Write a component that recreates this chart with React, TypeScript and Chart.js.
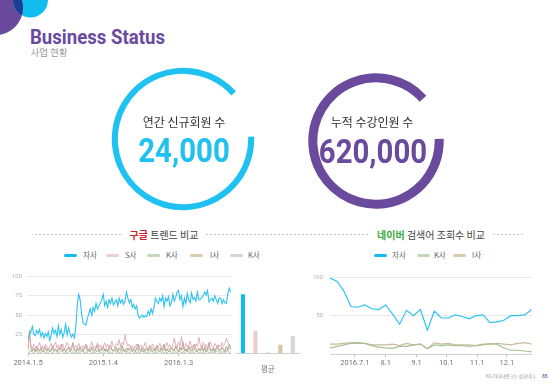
import React, { useEffect, useRef } from 'react';
import { Chart, registerables } from 'chart.js';
Chart.register(...registerables);

// ---------------- data ----------------
const googleStart = [2014, 1, 5];
const googleTickIndex = [0, 52, 104];
const googleTickText = ['2014.1.5', '2015.1.4', '2016.1.3'];
const googleSeriesNames = ['자사', 'S사', 'K사', 'I사', 'K사'];

const googleOwn = [
  19, 24, 28, 35, 25, 23, 30, 26, 31, 22, 27, 20, 26, 22, 28, 17, 24, 33, 26, 30,
  22, 36, 25, 31, 21, 27, 38, 24, 33, 26, 21, 25, 20, 34, 62, 77, 70, 52, 40, 38,
  37, 45, 52, 58, 50, 60, 55, 65, 58, 62, 66, 70, 77, 62, 68, 60, 70, 65, 72, 63,
  67, 70, 62, 72, 66, 70, 64, 68, 80, 72, 66, 70, 60, 64, 58, 62, 50, 46, 48, 50,
  47, 49, 48, 55, 50, 58, 52, 60, 72, 68, 65, 72, 68, 75, 61, 72, 68, 74, 62, 66,
  77, 68, 73, 80, 82, 70, 75, 61, 72, 65, 78, 70, 66, 79, 70, 73, 68, 80, 70, 70,
  73, 75, 80, 76, 82, 67, 70, 72, 68, 75, 70, 65, 72, 72, 65, 70, 66, 65, 78, 85,
  80,
];
const googleS = [
  8, 25, 10, 6, 12, 8, 5, 9, 14, 7, 10, 6, 12, 8, 4, 9, 13, 6, 10, 15,
  7, 11, 5, 9, 12, 6, 8, 14, 10, 5, 9, 12, 7, 10, 6, 13, 8, 5, 10, 7,
  12, 9, 4, 8, 15, 7, 10, 6, 12, 8, 11, 5, 9, 14, 8, 12, 6, 10, 16, 9,
  7, 13, 10, 18, 8, 14, 11, 24, 15, 9, 12, 7, 10, 6, 9, 12, 5, 8, 11, 6,
  9, 14, 8, 5, 10, 7, 12, 9, 6, 11, 8, 13, 7, 10, 5, 9, 14, 8, 11, 6,
  10, 20, 12, 7, 15, 9, 22, 10, 6, 13, 8, 11, 16, 7, 10, 5, 12, 9, 21, 11,
  7, 14, 8, 12, 6, 10, 15, 9, 7, 13, 10, 6, 11, 8, 14, 9, 12, 20, 15, 10,
  8,
];
const googleK = [
  2, 1, 3, 2, 1, 2, 4, 1, 2, 1, 3, 2, 1, 2, 1, 3, 2, 1, 2, 5,
  1, 2, 1, 3, 2, 1, 2, 1, 2, 3, 1, 2, 1, 2, 1, 2, 1, 3, 2, 1,
  2, 1, 4, 2, 1, 2, 1, 2, 3, 1, 2, 1, 2, 1, 3, 2, 1, 2, 1, 2,
  4, 1, 2, 1, 2, 1, 3, 2, 1, 2, 1, 2, 3, 1, 2, 1, 2, 1, 2, 3,
  1, 2, 1, 2, 1, 4, 2, 1, 2, 1, 2, 3, 1, 2, 1, 2, 1, 2, 3, 1,
  2, 1, 2, 1, 3, 2, 1, 2, 1, 2, 4, 1, 2, 1, 2, 1, 3, 2, 1, 2,
  1, 2, 1, 3, 2, 1, 2, 1, 2, 1, 2, 3, 1, 2, 1, 2, 1, 2, 3, 1,
  2,
];
const googleI = [
  5, 30, 8, 3, 6, 2, 9, 4, 3, 7, 2, 5, 8, 3, 6, 2, 4, 10, 3, 5,
  2, 7, 4, 12, 3, 6, 2, 5, 8, 3, 4, 14, 5, 2, 6, 3, 9, 4, 2, 7,
  12, 3, 5, 2, 8, 4, 3, 6, 13, 2, 5, 4, 9, 3, 6, 2, 7, 11, 4, 3,
  5, 8, 2, 6, 4, 10, 3, 5, 2, 7, 4, 9, 3, 5, 2, 6, 12, 4, 3, 8,
  2, 5, 7, 3, 10, 4, 2, 6, 3, 9, 5, 2, 7, 4, 12, 3, 6, 2, 5, 8,
  4, 3, 10, 5, 2, 8, 4, 15, 3, 6, 2, 9, 4, 3, 7, 12, 5, 2, 6, 4,
  10, 3, 8, 2, 5, 14, 4, 3, 7, 2, 6, 11, 4, 3, 8, 5, 2, 9, 4, 12,
  6,
];
const googleK2 = [
  4, 6, 3, 5, 7, 4, 3, 6, 5, 4, 8, 3, 5, 4, 6, 3, 7, 5, 4, 6,
  3, 5, 8, 4, 3, 6, 5, 4, 7, 3, 5, 4, 6, 3, 5, 7, 4, 3, 6, 5,
  8, 4, 3, 5, 6, 4, 7, 3, 5, 4, 6, 8, 3, 5, 4, 6, 3, 7, 5, 4,
  6, 3, 5, 8, 4, 3, 6, 5, 7, 4, 5, 3, 6, 4, 8, 5, 3, 6, 4, 5,
  7, 3, 6, 4, 5, 3, 8, 4, 6, 3, 5, 7, 4, 3, 6, 5, 4, 7, 3, 5,
  6, 4, 8, 5, 3, 6, 4, 7, 5, 3, 6, 4, 9, 5, 3, 6, 4, 5, 7, 3,
  6, 4, 5, 8, 3, 6, 4, 5, 3, 7, 4, 6, 3, 5, 8, 4, 6, 3, 5, 7,
  4,
];

const avgLabels = ['평균'];
const avgValues = [77, 29.5, 1, 11, 22.5];

const naverWeeks = [
  '2016.6.6', '2016.6.13', '2016.6.20', '2016.6.27', '2016.7.4', '2016.7.11', '2016.7.18', '2016.7.25',
  '2016.8.1', '2016.8.8', '2016.8.15', '2016.8.22', '2016.8.29', '2016.9.5', '2016.9.12', '2016.9.19',
  '2016.9.26', '2016.10.3', '2016.10.10', '2016.10.17', '2016.10.24', '2016.10.31', '2016.11.7', '2016.11.14',
  '2016.11.21', '2016.11.28', '2016.12.5', '2016.12.12', '2016.12.19', '2016.12.26',
];
const naverTickDates = ['2016.7.1', '2016.8.1', '2016.9.1', '2016.10.1', '2016.11.1', '2016.12.1'];
const naverTickText = ['2016.7.1', '8.1', '9.1', '10.1', '11.1', '12.1'];
const naverSeriesNames = ['자사', 'K사', 'I사'];
const naverOwn = [99, 95, 82, 62, 61, 64, 59, 58, 64, 52, 39, 57, 50, 58, 31, 56, 47, 47, 51, 49, 46, 50, 51, 41, 42, 44, 50, 50, 51, 58];
const naverK = [8, 10, 12, 14, 14, 14, 11, 9, 8, 7.5, 10, 10, 12, 13, 7, 12, 11, 12, 11, 11, 10, 11, 13, 13.5, 13, 8, 5, 5, 4, 3];
const naverI = [13, 13, 14, 15, 15, 14, 12, 12, 12, 13, 11, 14, 12, 13, 7, 15, 13, 14, 12, 12, 12, 11, 12, 13, 14, 13, 12, 14, 15, 13];

// ---------------- styling ----------------
const CYAN = '#1fc1f1';
const PURPLE = '#6a4a9d';
const lineColors = ['#2cc3f2', '#dfa9b3', '#a6c096', '#b09c7c', '#c9c9c9'];
const barColors = ['#12bcef', '#ebcdd2', '#c9d8bb', '#d3c7aa', '#d5d5d5'];
const legendColors = ['#12bcef', '#ebcdd2', '#c5d6b6', '#d6cbb0', '#d4d4d4'];
const naverColors = ['#2cc3f2', '#a9c295', '#c9bc9c'];
const KR = '"Noto Sans CJK KR", "Noto Sans", sans-serif';
const RB = 'Roboto, "Noto Sans CJK KR", sans-serif';

Chart.defaults.font.family = RB;

const dayIndex = (s: string) => {
  const [y, m, d] = s.split('.').map(Number);
  return (Date.UTC(y, m - 1, d) - Date.UTC(2016, 5, 1)) / 86400000;
};
const googleWeeks = googleOwn.map((_, i) => {
  const t = new Date(Date.UTC(googleStart[0], googleStart[1] - 1, googleStart[2] + i * 7));
  return `${t.getUTCFullYear()}.${t.getUTCMonth() + 1}.${t.getUTCDate()}`;
});

function ChartCanvas({ config, left, top, width, height }: any) {
  const ref = useRef<HTMLCanvasElement>(null);
  useEffect(() => {
    const chart = new Chart(ref.current as HTMLCanvasElement, config);
    return () => chart.destroy();
  }, []);
  return (
    <canvas
      ref={ref}
      width={width}
      height={height}
      style={{ position: 'absolute', left, top, width, height }}
    />
  );
}

const baseOpts = {
  animation: false,
  responsive: false,
  events: [],
  plugins: { legend: { display: false }, tooltip: { enabled: false } },
};

const googleConfig: any = {
  type: 'line',
  data: {
    labels: googleWeeks,
    datasets: [googleOwn, googleS, googleK, googleI, googleK2].map((d, i) => ({
      label: googleSeriesNames[i],
      data: d,
      borderColor: lineColors[i],
      borderWidth: i === 0 ? 1.1 : 0.9,
      pointRadius: 0,
      tension: 0,
      fill: false,
    })),
  },
  options: {
    ...baseOpts,
    layout: { padding: { left: 0, right: 4.3, top: 11.7, bottom: 0 } },
    scales: {
      x: {
        afterBuildTicks: (s: any) => { s.ticks = googleTickIndex.map((v) => ({ value: v })); },
        afterFit: (s: any) => { s.height = 21.7; },
        grid: { display: true, drawOnChartArea: false, drawTicks: true, tickLength: 3, color: '#bdbdbd' },
        border: { display: true, color: '#cfcfcf' },
        ticks: {
          autoSkip: false, maxRotation: 0, padding: 2, color: '#777',
          font: { size: 7.5, family: RB },
          callback: (v: any) => googleTickText[googleTickIndex.indexOf(v)],
        },
      },
      y: {
        min: 0, max: 100,
        afterFit: (s: any) => { s.width = 28; },
        grid: { color: '#e8e8e8', drawTicks: false },
        border: { display: false },
        ticks: {
          stepSize: 25, padding: 6, color: '#b0b0b0',
          font: { size: 6, family: RB },
          callback: (v: any) => (v === 0 ? '' : v),
        },
      },
    },
  },
};

const avgConfig: any = {
  type: 'bar',
  data: {
    labels: avgLabels,
    datasets: avgValues.map((v, i) => ({
      label: googleSeriesNames[i],
      data: [v],
      backgroundColor: barColors[i],
      barPercentage: 0.33,
      categoryPercentage: 1,
    })),
  },
  options: {
    ...baseOpts,
    layout: { padding: { left: 1.7, right: 6, top: 11.7, bottom: 0 } },
    scales: {
      x: {
        afterFit: (s: any) => { s.height = 21.7; },
        grid: { display: false },
        border: { display: true, color: '#cfcfcf' },
        ticks: { padding: 3, color: '#777', font: { size: 7.5, family: KR } },
      },
      y: { display: false, min: 0, max: 100 },
    },
  },
};

const naverX = naverWeeks.map(dayIndex);
const naverTickX = naverTickDates.map(dayIndex);

const naverConfig: any = {
  type: 'line',
  data: {
    datasets: [naverOwn, naverK, naverI].map((d, i) => ({
      label: naverSeriesNames[i],
      data: d.map((y, j) => ({ x: naverX[j], y })),
      borderColor: naverColors[i],
      borderWidth: 1.2,
      pointRadius: 0,
      tension: 0,
      fill: false,
    })),
  },
  options: {
    ...baseOpts,
    layout: { padding: { left: 0, right: 18.3, top: 12.3, bottom: 0 } },
    scales: {
      x: {
        type: 'linear',
        min: naverX[0],
        max: naverX[naverX.length - 1],
        afterBuildTicks: (s: any) => { s.ticks = naverTickX.map((v) => ({ value: v })); },
        afterFit: (s: any) => { s.height = 20.9; },
        grid: { display: true, drawOnChartArea: false, drawTicks: true, tickLength: 3, color: '#bdbdbd' },
        border: { display: true, color: '#cfcfcf' },
        ticks: {
          autoSkip: false, maxRotation: 0, padding: 2, color: '#777',
          font: { size: 7.5, family: RB },
          callback: (v: any) => naverTickText[naverTickX.indexOf(v)],
        },
      },
      y: {
        min: 0, max: 100,
        afterFit: (s: any) => { s.width = 30; },
        grid: { color: '#e8e8e8', drawTicks: false },
        border: { display: false },
        ticks: {
          stepSize: 50, padding: 7, color: '#b0b0b0',
          font: { size: 6, family: RB },
          callback: (v: any) => (v === 0 ? '' : v),
        },
      },
    },
  },
};

const ringConfig = (color: string, outer: number, inner: number): any => ({
  type: 'doughnut',
  data: { labels: ['ring'], datasets: [{ data: [1], backgroundColor: color, borderWidth: 0 }] },
  options: {
    ...baseOpts,
    circumference: 320,
    rotation: 88,
    radius: outer,
    cutout: inner,
    layout: { padding: 0 },
  },
});

const dash = (left: number, width: number, top: number) => (
  <div
    style={{
      position: 'absolute', left, top, width, height: 1,
      background: 'repeating-linear-gradient(to right, #c4c4c4 0 2px, transparent 2px 4px)',
    }}
  />
);

const legendItem = (x: number, tx: number, y: number, color: string, text: string, key: string) => (
  <React.Fragment key={key}>
    <div style={{ position: 'absolute', left: x, top: y - 1.5, width: 13, height: 3, borderRadius: 2, background: color }} />
    <div style={{ position: 'absolute', left: tx, top: y - 5, fontFamily: KR, fontSize: 7.5, lineHeight: '10px', color: '#666', whiteSpace: 'nowrap' }}>{text}</div>
  </React.Fragment>
);

export default function App() {
  const leftLegend = [
    [64, 83], [106, 125], [147, 166], [190, 210], [230, 248],
  ];
  const rightLegend = [
    [374, 392], [417, 434], [453, 472],
  ];
  return (
    <div style={{ position: 'absolute', left: 0, top: 0, width: 550, height: 385, overflow: 'hidden', background: '#fff' }}>
      {/* decorative corner */}
      <svg width={60} height={45} style={{ position: 'absolute', left: 0, top: 0 }}>
        <defs>
          <clipPath id="pc"><circle cx={-4} cy={8} r={27} /></clipPath>
        </defs>
        <circle cx={-4} cy={8} r={27} fill={PURPLE} />
        <circle cx={30.5} cy={0} r={17.5} fill="#12bcef" />
        <circle cx={30.5} cy={0} r={17.5} fill="#1d3d92" clipPath="url(#pc)" />
      </svg>

      <div style={{ position: 'absolute', left: 30, top: 28.4, fontFamily: RB, fontWeight: 700, fontSize: 19.7, lineHeight: 1, color: PURPLE, whiteSpace: 'nowrap', transform: 'scaleX(0.945)', transformOrigin: 'left top' }}>Business Status</div>
      <div style={{ position: 'absolute', left: 30.5, top: 47.5, fontFamily: KR, fontSize: 9.5, lineHeight: 1, color: '#9a9a9a', whiteSpace: 'nowrap' }}>사업 현황</div>

      {/* rings */}
      <ChartCanvas config={ringConfig(CYAN, 71.25, 66.75)} left={110} top={65.5} width={146} height={146} />
      <ChartCanvas config={ringConfig(PURPLE, 67.75, 63.25)} left={302.5} top={67.5} width={146} height={146} />

      <div style={{ position: 'absolute', left: 84, width: 200, top: 116.3, textAlign: 'center', fontFamily: KR, fontSize: 12, lineHeight: 1, color: '#333' }}>연간 신규회원 수</div>
      <div style={{ position: 'absolute', left: 84, width: 200, top: 133.9, textAlign: 'center', fontFamily: RB, fontWeight: 700, fontSize: 33, lineHeight: 1, color: CYAN, transform: 'scaleX(0.89)' }}>24,000</div>
      <div style={{ position: 'absolute', left: 272, width: 200, top: 116.3, textAlign: 'center', fontFamily: KR, fontSize: 12, lineHeight: 1, color: '#333' }}>누적 수강인원 수</div>
      <div style={{ position: 'absolute', left: 272.5, width: 200, top: 134.5, textAlign: 'center', fontFamily: RB, fontWeight: 700, fontSize: 33, lineHeight: 1, color: PURPLE, transform: 'scaleX(0.89)' }}>620,000</div>

      {/* section titles */}
      {dash(35, 86, 234)}
      {dash(206, 162, 234)}
      {dash(493, 30, 234)}
      <div style={{ position: 'absolute', left: 64, width: 200, top: 228.5, textAlign: 'center', fontFamily: KR, fontSize: 10, lineHeight: '11px', color: '#444', whiteSpace: 'nowrap' }}>
        <span style={{ color: '#d0222e', fontWeight: 700 }}>구글</span> 트렌드 비교
      </div>
      <div style={{ position: 'absolute', left: 331, width: 200, top: 228.5, textAlign: 'center', fontFamily: KR, fontSize: 10, lineHeight: '11px', color: '#444', whiteSpace: 'nowrap' }}>
        <span style={{ color: '#3aaa3c', fontWeight: 700 }}>네이버</span> 검색어 조회수 비교
      </div>

      {/* legends */}
      {leftLegend.map(([x, tx], i) => legendItem(x, tx, 255, legendColors[i], googleSeriesNames[i], 'l' + i))}
      {rightLegend.map(([x, tx], i) => legendItem(x, tx, 255, [legendColors[0], legendColors[2], legendColors[3]][i], naverSeriesNames[i], 'r' + i))}

      {/* charts */}
      <ChartCanvas config={googleConfig} left={0} top={265} width={235} height={110} />
      <ChartCanvas config={avgConfig} left={235} top={265} width={70} height={110} />
      <ChartCanvas config={naverConfig} left={300} top={265} width={250} height={110} />

      {/* footer */}
      <div style={{ position: 'absolute', left: 486, top: 374, fontFamily: KR, fontSize: 4.5, lineHeight: 1, color: '#999', whiteSpace: 'nowrap' }}>KG 아이티뱅크는 성공이다</div>
      <div style={{ position: 'absolute', left: 542, top: 374, fontFamily: RB, fontWeight: 700, fontSize: 5, lineHeight: 1, color: '#8a6cc0', whiteSpace: 'nowrap' }}>85</div>
    </div>
  );
}
